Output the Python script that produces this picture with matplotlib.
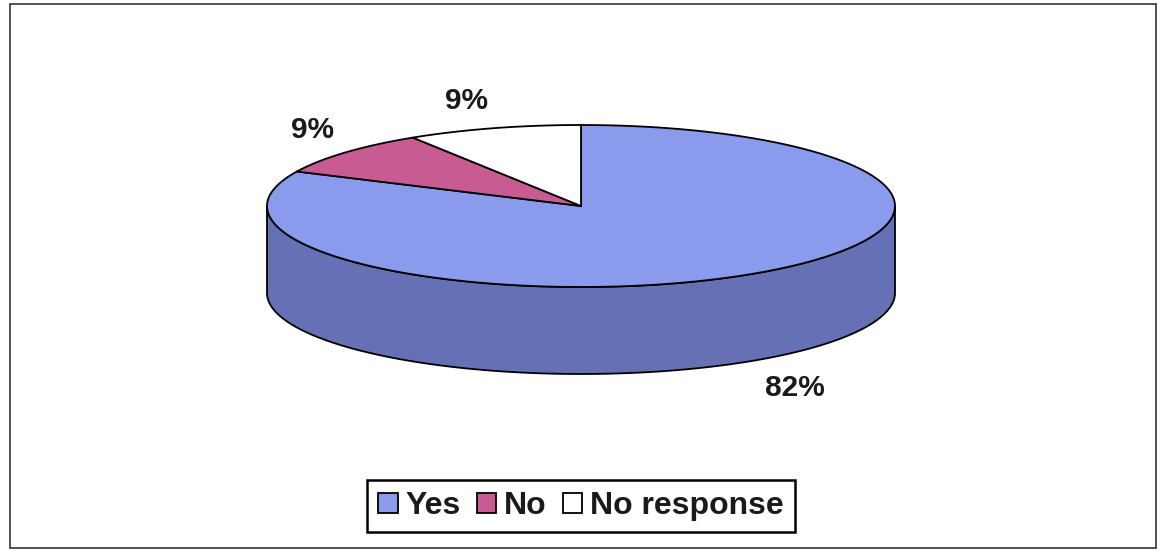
import numpy as np
import matplotlib
matplotlib.use("Agg")
import matplotlib.pyplot as plt
from matplotlib.patches import Polygon, Rectangle, Patch

# Data
labels = ["Yes", "No", "No response"]
values = [82, 9, 9]
top_colors = ["#8a9aec", "#c85c92", "#ffffff"]
side_colors = ["#6670b4", "#9a4470", "#dddddd"]
pct_labels = ["82%", "9%", "9%"]

plt.rcParams['font.family'] = ['Liberation Sans', 'DejaVu Sans']

fig = plt.figure(figsize=(11.61, 5.51), dpi=100)
ax = fig.add_axes([0, 0, 1, 1])
ax.set_xlim(0, 1161)
ax.set_ylim(551, 0)
ax.axis("off")

# pie geometry (pixels)
cx, cy = 581, 206
a, b = 314, 81
depth = 87


def pt(theta, dy=0.0):
    t = np.radians(theta)
    return cx + a * np.cos(t), cy - b * np.sin(t) + dy


# slices run clockwise from 12 o'clock: Yes, No, No response
fr = np.array(values) / sum(values) * 360.0
angles = []
s = 90.0
for v in fr:
    angles.append((s - v, s))
    s -= v

# side walls (front half of the ellipse)
for (t0, t1), sc in zip(angles, side_colors):
    for off in (0, -360, 360):
        lo, hi = max(t0 + off, -180), min(t1 + off, 0)
        if hi > lo:
            th = np.linspace(lo, hi, 200)
            top = [pt(t) for t in th]
            bot = [pt(t, depth) for t in th[::-1]]
            ax.add_patch(Polygon(top + bot, closed=True, facecolor=sc,
                                 edgecolor="black", lw=1.3, zorder=1))

# top wedges
for (t0, t1), tc in zip(angles, top_colors):
    th = np.linspace(t0, t1, 300)
    verts = [(cx, cy)] + [pt(t) for t in th]
    ax.add_patch(Polygon(verts, closed=True, facecolor=tc,
                         edgecolor="black", lw=1.3, zorder=2))

# percentage labels
label_pos = [(795, 388), (312, 130), (466, 101)]
for txt, (x, y) in zip(pct_labels, label_pos):
    ax.text(x, y, txt, fontsize=21.5, fontweight="bold", ha="center",
            va="center", color="#1a1a1a")

# outer frame
ax.add_patch(Rectangle((10, 4), 1146, 544, fill=False, edgecolor="#333333",
                       lw=1.2, zorder=0))

handles = [Patch(facecolor=c, edgecolor="black", lw=1.3) for c in top_colors]
leg = ax.legend(handles, labels, loc="center", ncol=3,
                bbox_to_anchor=(581 / 1161, 1 - 506 / 551),
                prop={"size": 23, "weight": "bold"},
                handlelength=0.6, handleheight=0.6, handletextpad=0.25,
                columnspacing=0.5, borderpad=0.35, borderaxespad=0,
                fancybox=False, framealpha=1)
leg.get_frame().set_edgecolor("black")
leg.get_frame().set_linewidth(1.8)
for t in leg.get_texts():
    t.set_color("#1a1a1a")

fig.savefig("out.png", dpi=100, facecolor="white")
